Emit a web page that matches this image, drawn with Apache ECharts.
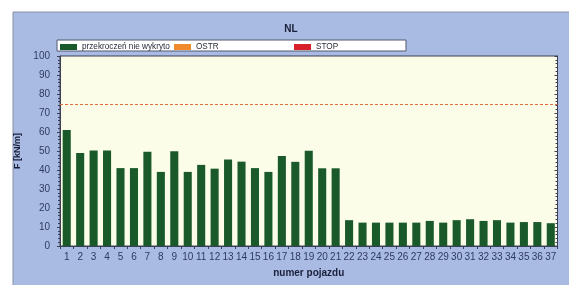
<!DOCTYPE html>
<html><head><meta charset="utf-8">
<script src="https://cdn.jsdelivr.net/npm/echarts@6/dist/echarts.min.js"></script>
<style>html,body{margin:0;padding:0;background:#fff}#c{width:569px;height:285px}</style>
</head><body><div id="c"></div>
<script>
const categories = Array.from({length:37},(_,i)=>String(i+1));
const values = [61,49,50.3,50.3,41,41,49.6,39,49.9,39,42.7,40.7,45.5,44.4,41,39,47.4,44.3,50.1,40.9,40.9,13.6,12.3,12.3,12.3,12.3,12.3,13.2,12.3,13.6,14.1,13.2,13.6,12.3,12.6,12.6,12];
const ostrLevel = 74.5;
const yTicks = [0,100,10];
const seriesNames = ['przekroczeń nie wykryto','OSTR','STOP'];
const font = 'Liberation Sans, Arial, sans-serif';
const chart = echarts.init(document.getElementById('c'), null, {renderer:'canvas'});
const legendLefts = [60, 174, 294];
const legendColors = ['#1a5a2a','#f08a2c','#d8202a'];
chart.setOption({
  animation:false,
  textStyle:{fontFamily:font},
  graphic:[
    {type:'rect', z:-10, shape:{x:13,y:12,width:580,height:300}, style:{fill:'#a9bbe2', stroke:'#8890a8', lineWidth:1}},
    {type:'rect', z:-5, shape:{x:57,y:40,width:349,height:11}, style:{fill:'#ffffff', stroke:'#505870', lineWidth:1}}
  ],
  title:{text:'NL', left:286, top:19, textAlign:'center', textStyle:{fontSize:10, fontWeight:'bold', color:'#1a1f3a', fontFamily:font}},
  legend: seriesNames.map((n,i)=>({data:[n], left:legendLefts[i], top:41, itemWidth:17, itemHeight:6, itemGap:0, padding:[2,0,0,0], icon:'rect', textStyle:{fontSize:8.2, color:'#2a2a3a', fontFamily:font, padding:[0,0,0,0]}, selectedMode:false})),
  grid:{left:60, top:56, right:11.5, bottom:39, show:true, backgroundColor:'#fcfde9', borderColor:'#3a3f55', borderWidth:1},
  xAxis:{type:'category', data:categories, boundaryGap:true,
    name:'numer pojazdu', nameLocation:'middle', nameGap:22,
    nameTextStyle:{fontSize:10, fontWeight:'bold', color:'#1a1f3a'},
    axisLine:{lineStyle:{color:'#3a3f55'}},
    axisTick:{show:true, inside:false, length:3, lineStyle:{color:'#3a3f55'}},
    axisLabel:{fontSize:10, color:'#303a60', margin:6, interval:0}},
  yAxis:[
    {type:'value', min:yTicks[0], max:yTicks[1], interval:yTicks[2],
     name:'F [kN/m]', nameLocation:'middle', nameGap:36,
     nameTextStyle:{fontSize:9, fontWeight:'bold', color:'#1a1f3a'},
     axisLine:{show:true, lineStyle:{color:'#3a3f55'}},
     axisTick:{show:true, length:3, lineStyle:{color:'#3a3f55'}},
     minorTick:{show:true, splitNumber:5, length:2, lineStyle:{color:'#3a3f55'}},
     splitLine:{show:false},
     axisLabel:{fontSize:10, color:'#303a60', margin:10}},
    {type:'value', min:yTicks[0], max:yTicks[1], interval:yTicks[2], position:'right',
     axisLine:{show:true, lineStyle:{color:'#3a3f55'}},
     axisTick:{show:true, inside:true, length:3, lineStyle:{color:'#3a3f55'}},
     minorTick:{show:true, splitNumber:5, length:2, lineStyle:{color:'#3a3f55'}},
     splitLine:{show:false}, axisLabel:{show:false}}
  ],
  series:[
    {name:seriesNames[0], type:'bar', data:values, barCategoryGap:'40%', itemStyle:{color:legendColors[0]}},
    {name:seriesNames[1], type:'line', data:[], itemStyle:{color:legendColors[1]}, lineStyle:{color:legendColors[1]},
     markLine:{silent:true, symbol:'none', label:{show:false}, lineStyle:{color:'#e0703a', type:[3,2], width:1}, data:[{yAxis:ostrLevel}]}},
    {name:seriesNames[2], type:'line', data:[], itemStyle:{color:legendColors[2]}, lineStyle:{color:legendColors[2]}}
  ]
});
</script></body></html>
